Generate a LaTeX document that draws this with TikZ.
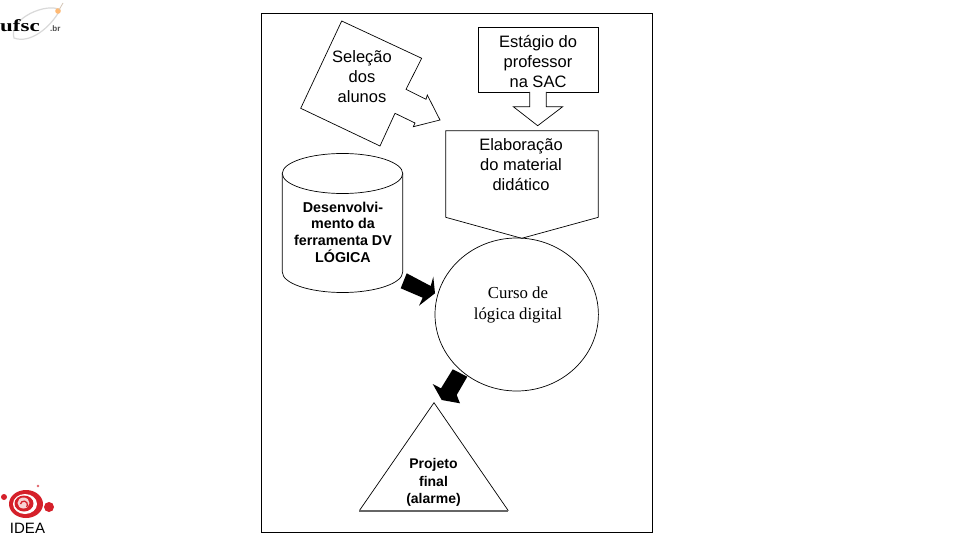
\documentclass[tikz,border=0pt]{standalone}
\usepackage{fontspec}
\usepackage{graphicx}
\setmainfont{Liberation Sans}
\newfontfamily\serifface{Liberation Serif}
\definecolor{ideared}{HTML}{D5202A}
\tikzset{x=1pt,y=-1pt,
 thinline/.style={draw=black,line width=0.7pt,fill=white},
 block/.style={fill=black,draw=none},
 lbl/.style={align=center,inner sep=0pt,font=\fontsize{16.5}{20}\selectfont},
 boldlbl/.style={align=center,inner sep=0pt,font=\fontsize{14.3}{16.7}\selectfont\bfseries},
 seriflbl/.style={align=center,inner sep=0pt,font=\serifface\fontsize{16.8}{21}\selectfont},
 triLbl/.style={align=center,inner sep=0pt,font=\fontsize{14}{17.5}\selectfont\bfseries}}
\begin{document}
\begin{tikzpicture}
\useasboundingbox (0,0) rectangle (960,540);
\fill[white] (0,0) rectangle (960,540);
% frame
\draw[line width=1pt] (261.5,13.5) rectangle (652,532);
% Selecao
\draw[thinline] (341.7,21)--(421.7,58.3)--(406,89.3)--(426,99.3)--(427.3,95)--(440,120)--(413.3,126.7)--(415,123)--(395,113.3)--(380,146)--(300.7,108.3)--cycle;
\node[lbl] (sel) at (362,77) {Seleção\\dos\\alunos};
% Estagio
\draw[thinline] (478.3,27.3) rectangle (598.3,92);
\node[lbl] (est) at (538,61.5) {Estágio do\\professor\\na SAC};
\draw[thinline] (529.7,92)--(529.7,106.7)--(513.3,106.7)--(537.7,125.7)--(562.7,106.7)--(546.3,106.7)--(546.3,92);
% Circle
\draw[thinline] (516.7,314.5) ellipse [x radius=81.7, y radius=76.5];
\node[seriflbl] (curso) at (518,305) {Curso de\\lógica digital};
% Elaboracao
\draw[thinline,fill=none] (521.7,238.3)--(445.7,217.3)--(445.7,130.7)--(598.3,130.7)--(598.3,217.3)--cycle;
\node[lbl] (ela) at (521,165) {Elaboração\\do material\\didático};
% Cylinder
\draw[thinline] (282.3,173)--(282.3,272) arc[start angle=180,end angle=360,x radius=60.2,y radius=-20.5]--(402.7,173);
\draw[thinline] (342.5,173.5) ellipse [x radius=60.2, y radius=20];
\node[boldlbl] (des) at (343,232) {Desenvolvi-\\mento da\\ferramenta DV\\LÓGICA};
% black arrows
\fill[block] (406.7,273.3)--(430.7,286)--(433.3,276.7)--(435,293.3)--(419,305.7)--(422.7,297.7)--(400.7,288.3)--cycle;
\fill[block] (452.7,369.3)--(467.3,376.7)--(456.7,395)--(460,403.3)--(441.7,400)--(432.7,384)--(441,388.3)--cycle;
% Triangle
\draw[thinline] (508.3,510.7)--(434,402.7)--(359.3,510.7);
\draw[line width=1.6pt,draw=black!60] (359.3,510.7)--(508.3,510.7);
\node[triLbl] (proj) at (433.5,482.5) {Projeto\\final\\(alarme)};
% UFSC logo
\draw[black!15,line width=1.2pt] (60,10) .. controls (48,2) and (8,18) .. (14,38) .. controls (30,44) and (50,28) .. (60,10);
\fill[orange!55!white] (58,11) circle (2.8);
\draw[orange!40!black!30,line width=0.8pt] (59,10)--(63,3);
\node[inner sep=0pt,anchor=west,font=\serifface\fontsize{17}{17}\selectfont\bfseries] (ufsc) at (0,26) {\scalebox{1.35}[1]{ufsc}};
\node[inner sep=0pt,anchor=west,font=\fontsize{8}{8}\selectfont\bfseries,text=black!70] (ufscb) at (50,28.5) {.br};
% IDEA logo
\fill[ideared] (26,504) ellipse [x radius=17,y radius=14];
\fill[white] (25,504) ellipse [x radius=12,y radius=10];
\fill[ideared] (24,503.5) ellipse [x radius=9.5,y radius=8];
\fill[white!80!ideared] (23.5,503) ellipse [x radius=6,y radius=5.5];
\draw[ideared,line width=1.3pt] (20.5,504) arc[start angle=190,end angle=400,radius=3.5];
\fill[ideared] (49,507) circle (5);
\fill[ideared] (4,497) circle (3);
\fill[ideared!70!white] (38,486) circle (1.3);
\node[inner sep=0pt,font=\fontsize{15}{16}\selectfont] (idea) at (27.5,528.5) {IDEA};
\end{tikzpicture}
\end{document}
